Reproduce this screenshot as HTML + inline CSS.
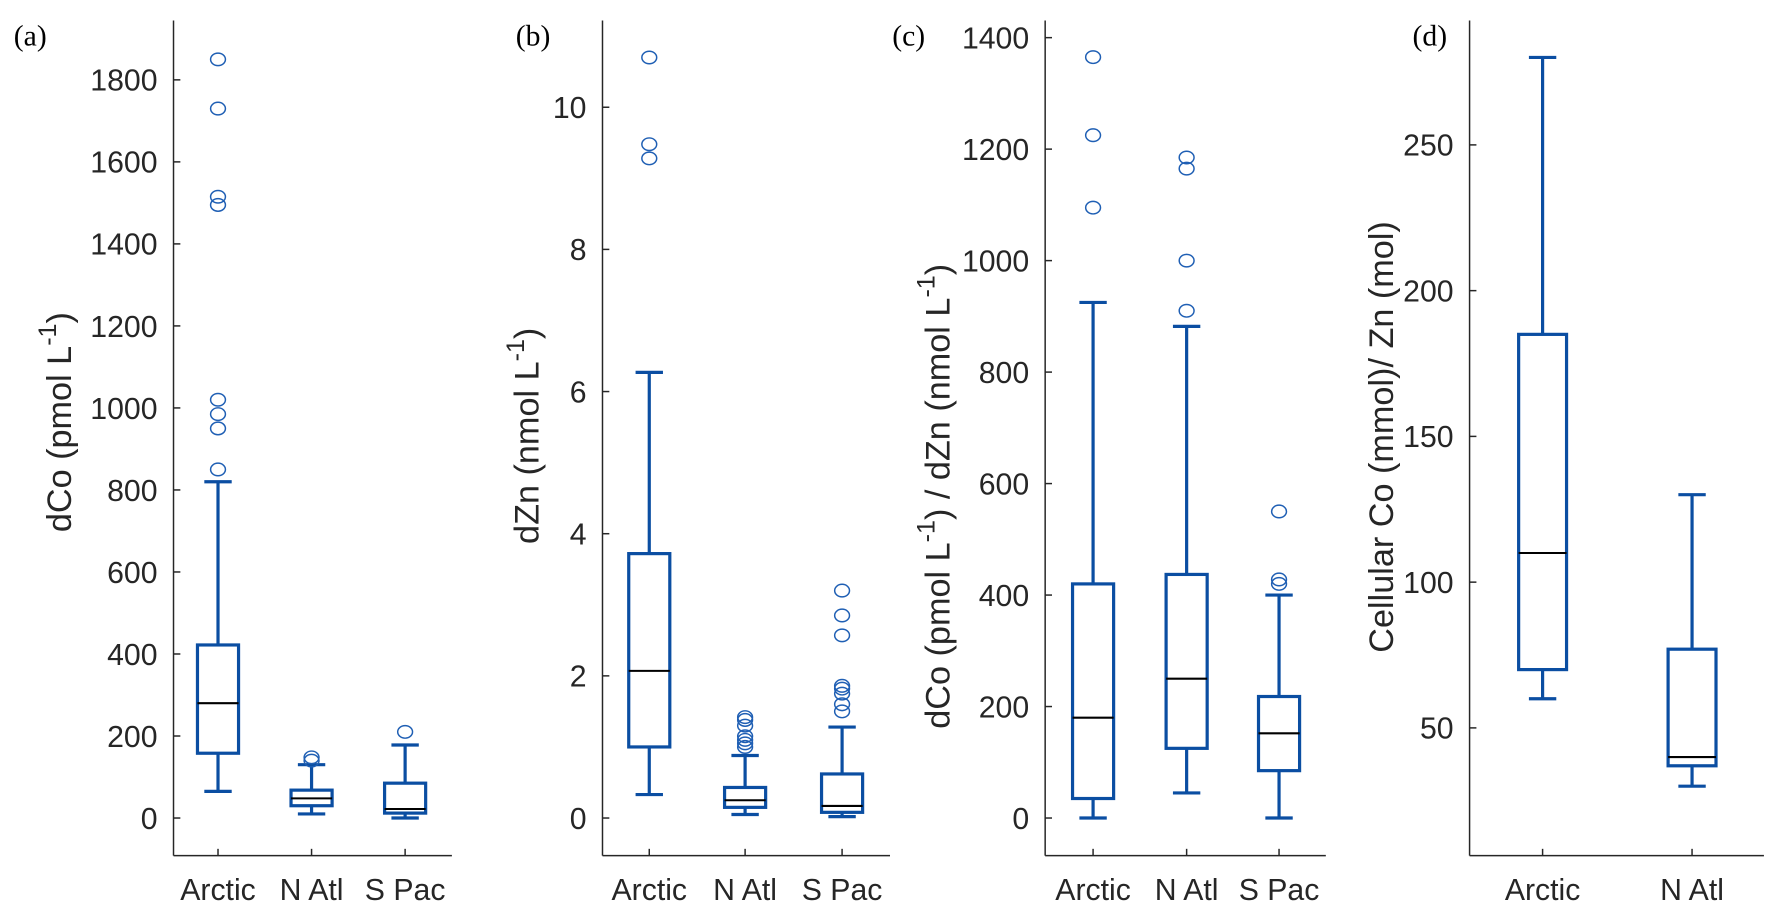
<!DOCTYPE html>
<html><head><meta charset="utf-8"><style>
html,body{margin:0;padding:0;background:#fff;}
svg{display:block;}
text{font-family:"Liberation Sans",sans-serif;fill:#262626;}
.pl{font-family:"Liberation Serif",serif;fill:#000;}
</style></head><body>
<svg id="fig" width="1780" height="915" viewBox="0 0 1560 802" xmlns="http://www.w3.org/2000/svg"></svg>
<script>
// Panel (a) dCo
const catsA = ["Arctic","N Atl","S Pac"];
const statsA = [[65,158,280,422,820],[10,30,48,68,130],[0,12,22,85,178]];
const outA = [[850,950,985,1020,1495,1515,1730,1850],[140,148],[210]];
const ticksA = [0,200,400,600,800,1000,1200,1400,1600,1800];
// Panel (b) dZn
const catsB = ["Arctic","N Atl","S Pac"];
const statsB = [[0.33,1.0,2.07,3.72,6.27],[0.05,0.15,0.25,0.43,0.88],[0.02,0.08,0.17,0.62,1.28]];
const outB = [[9.28,9.48,10.7],[1.0,1.05,1.1,1.15,1.3,1.38,1.42],[1.5,1.6,1.75,1.82,1.86,2.57,2.85,3.2]];
const ticksB = [0,2,4,6,8,10];
// Panel (c) ratio
const catsC = ["Arctic","N Atl","S Pac"];
const statsC = [[0,35,180,420,925],[45,125,250,437,882],[0,85,152,218,400]];
const outC = [[1095,1225,1365],[910,1000,1165,1185],[420,428,550]];
const ticksC = [0,200,400,600,800,1000,1200,1400];
// Panel (d) cellular
const catsD = ["Arctic","N Atl"];
const statsD = [[60,70,110,185,280],[30,37,40,77,130]];
const outD = [[],[]];
const ticksD = [50,100,150,200,250];

const NS="http://www.w3.org/2000/svg";
const svg=document.getElementById('fig');
function mk(tag,attrs,parent){const e=document.createElementNS(NS,tag);for(const k in attrs)e.setAttribute(k,attrs[k]);(parent||svg).appendChild(e);return e;}
const BLUE="#0b4ea2";

function panel(p){
  const g=mk('g',{});
  
  
  const y=v=>p.y0-(v-p.vmin)*(p.y0-p.y1)/(p.vmax-p.vmin);
  const top=18,bot=750;
  const ya=mk('line',{x1:p.ax,y1:top,x2:p.ax,y2:bot,stroke:'#262626','stroke-width':1.3},g);
  
  const xa=mk('line',{x1:p.ax,y1:bot,x2:p.right,y2:bot,stroke:'#262626','stroke-width':1.3},g);
  
  p.ticks.forEach(t=>{
    const yy=y(t);
    mk('line',{x1:p.ax,y1:yy,x2:p.ax+6,y2:yy,stroke:'#262626','stroke-width':1.3},g);
    const tx=mk('text',{x:p.ax-14,y:yy+9.5,'text-anchor':'end','font-size':26.5},g);
    tx.textContent=t;
    
  });
  p.cats.forEach((c,i)=>{
    const cx=p.xs[i];
    mk('line',{x1:cx,y1:bot,x2:cx,y2:bot-6,stroke:'#262626','stroke-width':1.3},g);
    const tx=mk('text',{x:cx,y:789,'text-anchor':'middle','font-size':26.5},g);
    tx.textContent=c;
    
    const s=p.stats[i];const w=p.bw;
    const bg=mk('g',{},g);
    
    
    const st={stroke:BLUE,'stroke-width':2.8,fill:'none'};
    mk('line',Object.assign({x1:cx,y1:y(s[0]),x2:cx,y2:y(s[1])},st),bg);
    mk('line',Object.assign({x1:cx,y1:y(s[3]),x2:cx,y2:y(s[4])},st),bg);
    mk('line',Object.assign({x1:cx-p.cw,y1:y(s[0]),x2:cx+p.cw,y2:y(s[0])},st),bg);
    mk('line',Object.assign({x1:cx-p.cw,y1:y(s[4]),x2:cx+p.cw,y2:y(s[4])},st),bg);
    mk('rect',Object.assign({x:cx-w/2,y:y(s[3]),width:w,height:y(s[1])-y(s[3])},st),bg);
    mk('line',{x1:cx-w/2,y1:y(s[2]),x2:cx+w/2,y2:y(s[2]),stroke:'#000','stroke-width':1.8},bg);
    p.out[i].forEach(v=>{
      const o=mk('ellipse',{cx:cx,cy:y(v),rx:6.5,ry:5.5,stroke:'#1f5fb4','stroke-width':1.3,fill:'none'},bg);
      
    });
  });
  const lab=mk('text',{x:p.labx,y:40,'font-size':26,'class':'pl'},g);
  lab.textContent='('+p.id+')';
  
  const yt=mk('text',{transform:`translate(${p.ylx},${p.yly}) rotate(-90)`,'text-anchor':'middle','font-size':30},g);
  yt.innerHTML=p.ytitle;
  
}
const S='<tspan dy="-13" font-size="22">-1</tspan>';
const sup=S+'<tspan dy="13">)</tspan>';
panel({id:'a',ax:152,right:396,xs:[191,273,355],bw:36,cw:12,y0:717,y1:70,vmin:0,vmax:1800,ticks:ticksA,cats:catsA,stats:statsA,out:outA,labx:12,ylx:62,yly:370,ytitle:'dCo (pmol L'+sup});
panel({id:'b',ax:528,right:780,xs:[569,653,738],bw:36,cw:12,y0:717,y1:94,vmin:0,vmax:10,ticks:ticksB,cats:catsB,stats:statsB,out:outB,labx:452,ylx:472,yly:382,ytitle:'dZn (nmol L'+sup});
panel({id:'c',ax:916,right:1162,xs:[958,1040,1121],bw:36,cw:12,y0:717,y1:33,vmin:0,vmax:1400,ticks:ticksC,cats:catsC,stats:statsC,out:outC,labx:782,ylx:832,yly:435,ytitle:'dCo (pmol L'+S+'<tspan dy="13">) / dZn (nmol L</tspan>'+sup});
panel({id:'d',ax:1288,right:1546,xs:[1352,1483],bw:42,cw:12,y0:638,y1:127,vmin:50,vmax:250,ticks:ticksD,cats:catsD,stats:statsD,out:outD,labx:1238,ylx:1221,yly:383,ytitle:'Cellular Co (mmol)/ Zn (mol)'});
</script>
</body></html>
